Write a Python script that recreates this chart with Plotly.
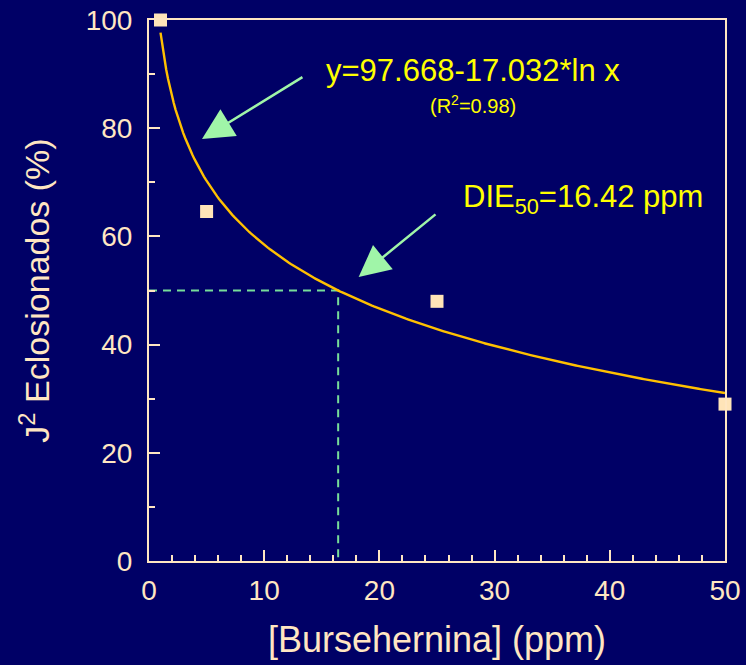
import numpy as np
import plotly.graph_objects as go

# Data
conc = [1, 5, 25, 50]
hatched = [100, 64.6, 48.0, 29.0]
fit_a, fit_b = 97.668, -17.032
die50 = 16.42

x_ticks = [0, 10, 20, 30, 40, 50]
y_ticks = [0, 20, 40, 60, 80, 100]

BG = "#000066"
CREAM = "#FFE6C2"
FONT = "Liberation Sans, Arial, sans-serif"

xf = np.linspace(1, 50, 300)
yf = fit_a + fit_b * np.log(xf)

fig = go.Figure()
# dashed reference lines
fig.add_trace(go.Scatter(x=[0, die50, die50], y=[50, 50, 0], mode="lines",
                         line=dict(color="#77DD99", width=2, dash="8px,6px"),
                         hoverinfo="skip", showlegend=False))
fig.add_trace(go.Scatter(x=xf, y=yf, mode="lines",
                         line=dict(color="#FFC000", width=2.4),
                         showlegend=False))
fig.add_trace(go.Scatter(x=conc, y=hatched, mode="markers",
                         marker=dict(symbol="square", size=13, color="#FFE4B8",
                                     line=dict(width=0)),
                         cliponaxis=False, showlegend=False))

axis_common = dict(showline=True, linecolor=CREAM, linewidth=2, mirror=True,
                   ticks="inside", tickcolor=CREAM, showgrid=False, zeroline=False,
                   automargin=False,
                   tickfont=dict(family=FONT, size=28, color=CREAM),
                   minor=dict(ticks="inside", ticklen=6, tickcolor=CREAM, tickwidth=2))

fig.update_xaxes(range=[0, 50], tickvals=x_ticks, ticklen=11, tickwidth=2,
                 minor_dtick=2, ticklabelstandoff=3,
                 title=dict(text="[Bursehernina] (ppm)",
                            font=dict(family=FONT, size=36, color=CREAM), standoff=22),
                 **axis_common)
fig.update_yaxes(range=[0, 100], tickvals=y_ticks, ticklen=11, tickwidth=2,
                 minor_dtick=10, ticklabelstandoff=9,
                 title=dict(text="J<sup>2</sup> Eclosionados (%)",
                            font=dict(family=FONT, size=34, color=CREAM), standoff=26),
                 **axis_common)

YEL = "#FFFF00"
ARROW = "#A0F5A8"
fig.add_annotation(x=4.6, y=78.0, ax=13.45, ay=89.6, axref="x", ayref="y",
                   showarrow=True, arrowhead=2, arrowsize=2.5, arrowwidth=2.5,
                   arrowcolor=ARROW, text="")
fig.add_annotation(x=18.2, y=52.5, ax=25.0, ay=64.3, axref="x", ayref="y",
                   showarrow=True, arrowhead=2, arrowsize=2.5, arrowwidth=2.5,
                   arrowcolor=ARROW, text="")
fig.add_annotation(x=15.2, y=90.6, xanchor="left", yanchor="middle", showarrow=False,
                   text="y=97.668-17.032*ln x",
                   font=dict(family=FONT, size=31, color=YEL))
fig.add_annotation(x=28.1, y=84.3, xanchor="center", yanchor="middle", showarrow=False,
                   text="(R<sup>2</sup>=0.98)",
                   font=dict(family=FONT, size=20, color=YEL))
fig.add_annotation(x=27.1, y=67.0, xanchor="left", yanchor="middle", showarrow=False,
                   text="DIE<sub>50</sub>=16.42 ppm",
                   font=dict(family=FONT, size=31, color=YEL))

fig.update_layout(width=746, height=665, paper_bgcolor=BG, plot_bgcolor=BG,
                  margin=dict(l=149, r=21, t=20, b=104, autoexpand=False), showlegend=False,
                  font=dict(family=FONT, color=CREAM))

fig.write_html("out.html")
